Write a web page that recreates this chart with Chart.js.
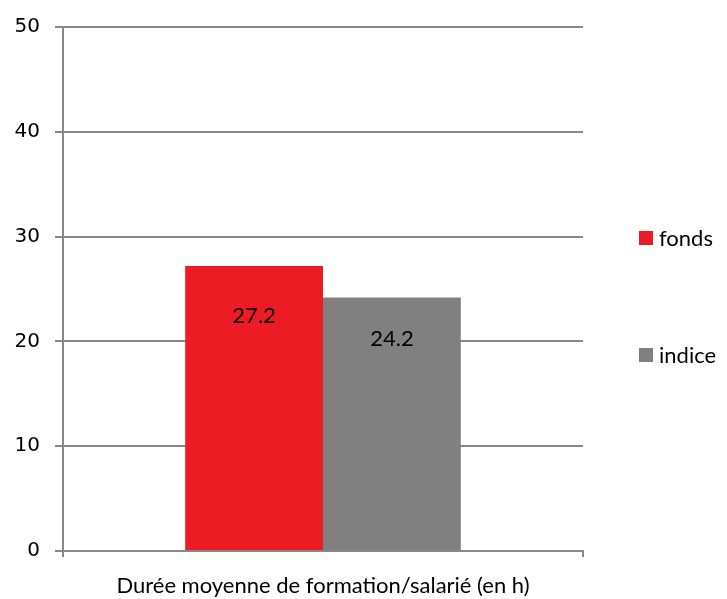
<!DOCTYPE html>
<html>
<head>
<meta charset="utf-8">
<script src="https://cdn.jsdelivr.net/npm/chart.js@4/dist/chart.umd.min.js"></script>
<style>
  html, body { margin: 0; padding: 0; background: #fff; }
  #wrap { width: 727px; height: 599px; }
</style>
</head>
<body>
<div id="wrap"><canvas id="chart" width="727" height="599"></canvas></div>
<script>
const categories = ['Durée moyenne de formation/salarié (en h)'];
const seriesNames = ['fonds', 'indice'];
const fondsValues = [27.2];
const indiceValues = [24.2];
const yTicks = [0, 10, 20, 30, 40, 50];

const colors = ['#ED1C24', '#808080'];
const labelFont = 'Lato, "Liberation Sans", sans-serif';

// value labels drawn inside the bars, near the top
const valueLabels = {
    id: 'valueLabels',
    afterDatasetsDraw(chart) {
        const ctx = chart.ctx;
        const offsets = [50, 42];
        ctx.save();
        ctx.font = '22px ' + labelFont;
        ctx.fillStyle = '#000';
        ctx.textAlign = 'center';
        ctx.textBaseline = 'middle';
        chart.data.datasets.forEach((ds, i) => {
            chart.getDatasetMeta(i).data.forEach((bar, j) => {
                ctx.fillText(ds.data[j].toFixed(1), bar.x, bar.y + offsets[i]);
            });
        });
        ctx.restore();
    }
};

// Excel-like legend on the right, spread vertically
const sideLegend = {
    id: 'sideLegend',
    afterDraw(chart) {
        const ctx = chart.ctx;
        const rows = [238, 355];
        ctx.save();
        ctx.font = '22px ' + labelFont;
        ctx.textBaseline = 'middle';
        chart.data.datasets.forEach((ds, i) => {
            ctx.fillStyle = ds.backgroundColor;
            ctx.fillRect(639, rows[i] - 7, 14, 14);
            ctx.fillStyle = '#000';
            ctx.fillText(ds.label, 659, rows[i] + 1);
        });
        ctx.restore();
    }
};

new Chart(document.getElementById('chart').getContext('2d'), {
    type: 'bar',
    data: {
        labels: categories,
        datasets: [
            { label: seriesNames[0], data: fondsValues, backgroundColor: colors[0] },
            { label: seriesNames[1], data: indiceValues, backgroundColor: colors[1] }
        ]
    },
    options: {
        responsive: false,
        animation: false,
        layout: { padding: { left: 0, right: 144, top: 7, bottom: 0 } },
        plugins: {
            legend: { display: false },
            tooltip: { enabled: false }
        },
        datasets: {
            bar: { categoryPercentage: 0.53, barPercentage: 1.0 }
        },
        scales: {
            x: {
                afterFit(axis) { axis.height = 48; },
                grid: { drawOnChartArea: false, color: '#888', lineWidth: 2, tickLength: 6, offset: true },
                border: { color: '#888', width: 2 },
                ticks: { color: '#000', font: { family: labelFont, size: 22 }, padding: 16 }
            },
            y: {
                min: 0,
                max: 50,
                afterFit(axis) { axis.width = 63; },
                afterBuildTicks(axis) { axis.ticks = yTicks.map(v => ({ value: v })); },
                grid: { color: '#888', lineWidth: 2, tickLength: 8 },
                border: { color: '#888', width: 2 },
                ticks: { color: '#000', font: { family: '"DejaVu Sans"', size: 20 }, padding: 15 }
            }
        }
    },
    plugins: [valueLabels, sideLegend]
});
</script>
</body>
</html>
